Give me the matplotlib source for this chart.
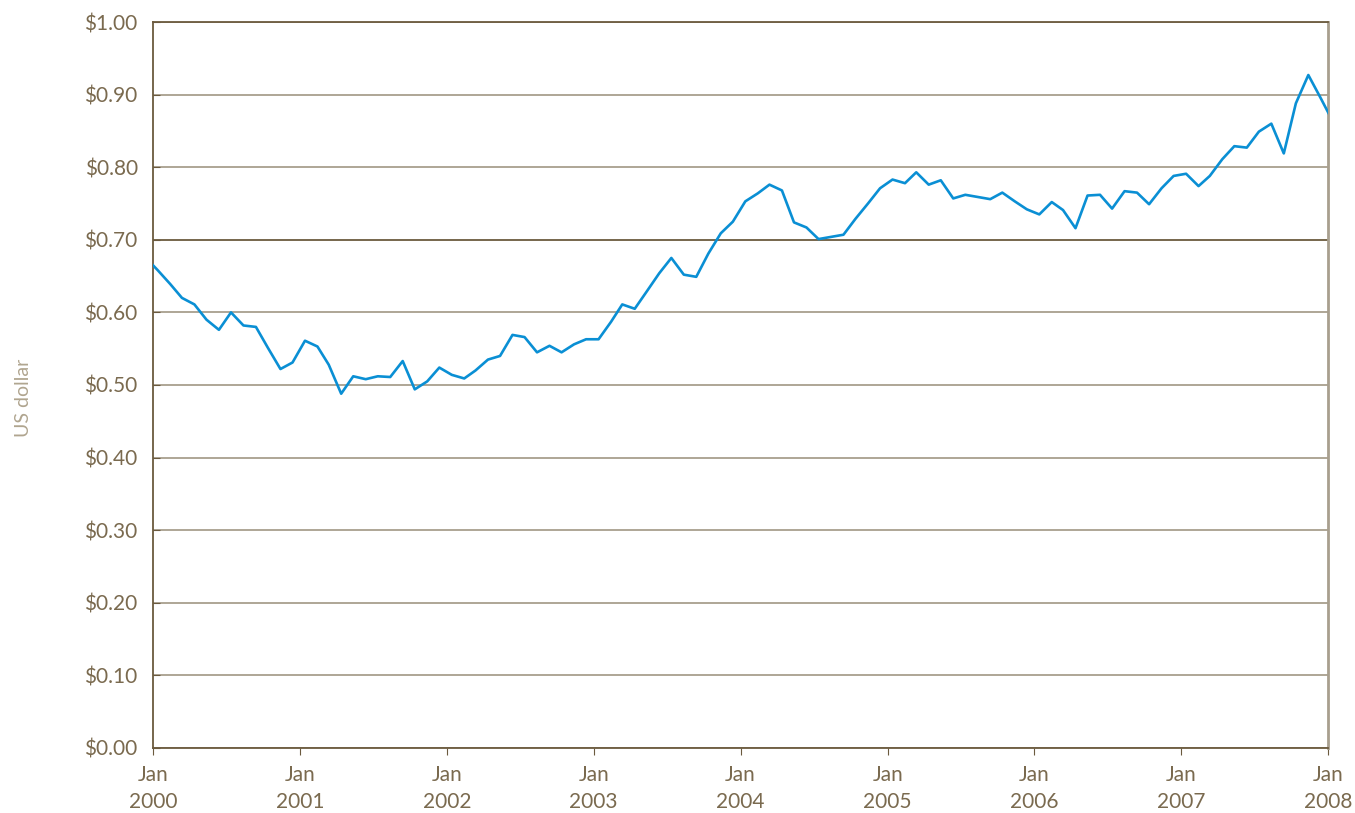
import matplotlib
matplotlib.use("Agg")
import matplotlib.pyplot as plt
import matplotlib.dates as mdates
import matplotlib.ticker as mticker
import pandas as pd
import numpy as np

# monthly rate, Dec 1999 .. Jan 2008 (mid-month readings)
rate = [0.676, 0.658, 0.639, 0.620, 0.611, 0.590, 0.576, 0.600, 0.582, 0.580,
        0.551, 0.522, 0.531, 0.561, 0.553, 0.528, 0.488, 0.512, 0.508, 0.512,
        0.511, 0.533, 0.494, 0.505, 0.524, 0.514, 0.509, 0.520, 0.535, 0.540,
        0.569, 0.566, 0.545, 0.554, 0.545, 0.556, 0.563, 0.563, 0.587, 0.611,
        0.605, 0.629, 0.654, 0.675, 0.652, 0.649, 0.681, 0.709, 0.725, 0.753,
        0.764, 0.776, 0.768, 0.724, 0.717, 0.701, 0.704, 0.707, 0.729, 0.750,
        0.771, 0.783, 0.778, 0.793, 0.776, 0.782, 0.757, 0.762, 0.759, 0.756,
        0.765, 0.753, 0.742, 0.735, 0.752, 0.741, 0.716, 0.761, 0.762, 0.743,
        0.767, 0.765, 0.749, 0.771, 0.788, 0.791, 0.774, 0.788, 0.811, 0.829,
        0.827, 0.849, 0.860, 0.819, 0.888, 0.927, 0.896, 0.863]
dates = pd.date_range("1999-12-01", periods=len(rate), freq="MS") + pd.Timedelta(days=12)

years = list(range(2000, 2009))
yticks = [i / 10 for i in range(11)]

txt = "#7a6a4f"
dark = "#6b5a3e"
grid = "#a89f8e"
blue = "#0a8fd4"

plt.rcParams['font.family'] = ['Lato', 'DejaVu Sans']

fig = plt.figure(figsize=(13.55, 8.13), dpi=100)
ax = fig.add_axes([0.1129, 0.0800, 0.8672, 0.8929])

ax.plot(dates, rate, color=blue, lw=1.9, zorder=3)

ax.set_xlim(pd.Timestamp("2000-01-01"), pd.Timestamp("2008-01-01"))
ax.set_ylim(0, 1.0)

ax.set_yticks(yticks)
ax.yaxis.set_major_formatter(mticker.FuncFormatter(lambda v, p: "${:.2f}".format(v)))
ax.set_xticks([pd.Timestamp(f"{y}-01-01") for y in years])
ax.set_xticklabels([f"Jan\n{y}" for y in years])

ax.grid(axis='y', color=grid, lw=1.3, zorder=1)
ax.get_ygridlines()[7].set_color(dark)

for s in ['left', 'bottom', 'top']:
    ax.spines[s].set_color(dark)
    ax.spines[s].set_linewidth(1.3)
ax.spines['right'].set_color(grid)
ax.spines['right'].set_linewidth(2)

ax.tick_params(axis='y', direction='in', length=5, color=dark, labelcolor=txt,
               labelsize=15, pad=11)
ax.tick_params(axis='x', direction='out', length=5, color=dark, labelcolor=txt,
               labelsize=15, pad=7)
for lab in ax.get_xticklabels():
    lab.set_linespacing(1.45)

fig.text(0.017, 0.51, "US dollar", rotation=90, color="#b0a58f", fontsize=14,
         ha='center', va='center')

fig.savefig("out.png", dpi=100)
